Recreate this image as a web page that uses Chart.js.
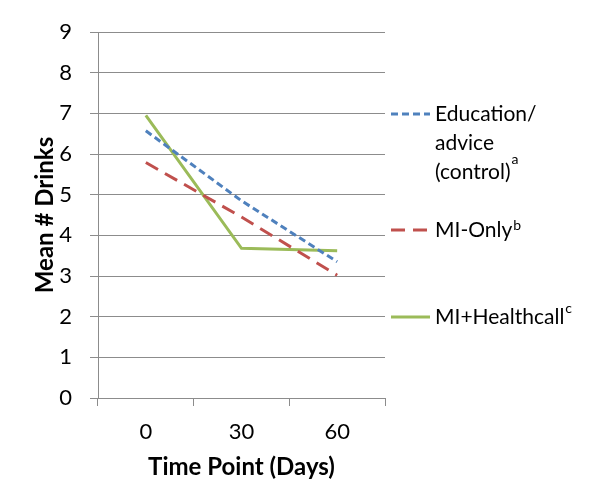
<!DOCTYPE html>
<html>
<head>
<meta charset="utf-8">
<script src="https://cdn.jsdelivr.net/npm/chart.js@4/dist/chart.umd.min.js"></script>
<style>
  html, body { margin: 0; padding: 0; background: #fff; }
  #wrap { width: 600px; height: 503px; }
</style>
</head>
<body>
<div id="wrap"><canvas id="chart"></canvas></div>
<script>
// --- Data ---
const timePoints = ['0', '30', '60'];
const educationValues = [6.57, 4.85, 3.35];
const miOnlyValues = [5.79, 4.45, 3.02];
const healthcallValues = [6.95, 3.68, 3.62];

// legend text: each line is [text, superscript, raise]
const educationLegend = [['Education/', '', 0], ['advice', '', 0], ['(control)', 'a', 13]];
const miOnlyLegend = [['MI-Only', 'b', 5]];
const healthcallLegend = [['MI+Healthcall', 'c', 9]];

const FONT = 'Lato';
const AXIS_GRAY = '#8c8c8c';

// --- Legend drawn at the right, Excel style ---
const sideLegend = {
    id: 'sideLegend',
    afterDraw(chart) {
        const ctx = chart.ctx;
        const rows = [
            { ds: 0, y: 114, lines: educationLegend },
            { ds: 1, y: 230, lines: miOnlyLegend },
            { ds: 2, y: 317, lines: healthcallLegend }
        ];
        ctx.save();
        rows.forEach(row => {
            const ds = chart.data.datasets[row.ds];
            ctx.strokeStyle = ds.borderColor;
            ctx.lineWidth = 3;
            ctx.setLineDash(ds.borderDash || []);
            ctx.beginPath();
            ctx.moveTo(391, row.y);
            ctx.lineTo(430, row.y);
            ctx.stroke();
            ctx.setLineDash([]);

            ctx.fillStyle = '#000';
            ctx.textBaseline = 'middle';
            row.lines.forEach((ln, i) => {
                const y = row.y + i * 29;
                ctx.font = `21px ${FONT}`;
                ctx.fillText(ln[0], 435, y);
                if (ln[1]) {
                    const w = ctx.measureText(ln[0]).width;
                    ctx.font = `14px ${FONT}`;
                    ctx.fillText(ln[1], 435 + w + 1, y - ln[2]);
                }
            });
        });
        ctx.restore();
    }
};

new Chart(document.getElementById('chart'), {
    type: 'line',
    data: {
        labels: timePoints,
        datasets: [
            {
                label: 'Education/advice (control)',
                data: educationValues,
                borderColor: '#4f81bd',
                borderWidth: 3,
                borderDash: [7, 4],
                pointRadius: 0,
                tension: 0,
                fill: false
            },
            {
                label: 'MI-Only',
                data: miOnlyValues,
                borderColor: '#c0504d',
                borderWidth: 3,
                borderDash: [14, 8],
                pointRadius: 0,
                tension: 0,
                fill: false
            },
            {
                label: 'MI+Healthcall',
                data: healthcallValues,
                borderColor: '#9bbb59',
                borderWidth: 3,
                pointRadius: 0,
                tension: 0,
                fill: false
            }
        ]
    },
    options: {
        responsive: true,
        maintainAspectRatio: false,
        animation: false,
        layout: { padding: { top: 32, right: 215, bottom: 0, left: 0 } },
        plugins: {
            legend: { display: false },
            tooltip: { enabled: false }
        },
        scales: {
            x: {
                offset: true,
                grid: {
                    offset: true,
                    drawOnChartArea: false,
                    color: AXIS_GRAY,
                    tickLength: 8
                },
                border: { color: AXIS_GRAY, width: 1 },
                ticks: { color: '#000', font: { family: FONT, size: 22 }, padding: 13 },
                title: {
                    display: true,
                    text: 'Time Point (Days)',
                    color: '#000',
                    font: { family: FONT, size: 24, weight: 'bold' },
                    padding: { top: 6, bottom: 21 }
                },
                afterFit: s => { s.height = 105; }
            },
            y: {
                min: 0,
                max: 9,
                ticks: { stepSize: 1, color: '#000', font: { family: FONT, size: 22 }, padding: 18 },
                grid: { color: AXIS_GRAY, tickLength: 8 },
                border: { color: AXIS_GRAY, width: 1 },
                title: {
                    display: true,
                    text: 'Mean # Drinks',
                    color: '#000',
                    font: { family: FONT, size: 24, weight: 'bold' },
                    padding: { top: 31, bottom: 0 }
                },
                afterFit: s => { s.width = 98; }
            }
        }
    },
    plugins: [sideLegend]
});
</script>
</body>
</html>
